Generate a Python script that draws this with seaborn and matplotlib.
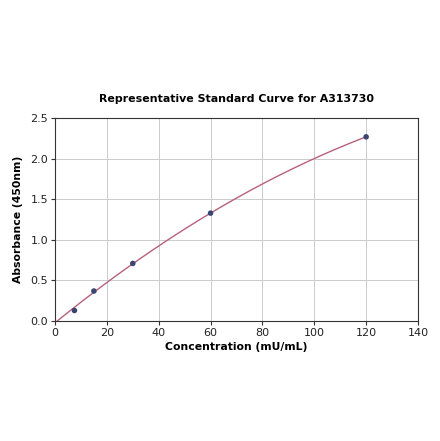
import numpy as np
import matplotlib
matplotlib.use('Agg')
import matplotlib.pyplot as plt
import seaborn as sns

# standard points
conc = [0, 7.5, 15, 30, 60, 120]
absorb = [0.0, 0.13, 0.37, 0.71, 1.33, 2.27]

sns.set_style('whitegrid')
plt.rcParams['font.family'] = ['DejaVu Sans']

fig = plt.figure(figsize=(4.4, 4.41), dpi=100)
ax = fig.add_axes([0.125, 0.272, 0.825, 0.46])

# second order fit for the curve
coef = np.polyfit(conc, absorb, 2)
xs = np.linspace(0, 120, 200)
ys = np.polyval(coef, xs)
sns.lineplot(x=xs, y=ys, ax=ax, color='#b8607f', linewidth=1)
sns.scatterplot(x=conc[1:], y=absorb[1:], ax=ax, color='#3b4670', s=16, edgecolor='none', zorder=3)

ax.set_xlim(0, 140)
ax.set_ylim(0, 2.5)
ax.set_xticks(np.arange(0, 141, 20))
ax.set_yticks(np.arange(0, 2.51, 0.5))
ax.tick_params(labelsize=8, length=3, color='#333333', labelcolor='#222222', left=True, bottom=True, pad=2)
for s in ax.spines.values():
    s.set_color('#333333')
    s.set_linewidth(0.8)
ax.grid(color='#cccccc', linewidth=0.7)

ax.set_title('Representative Standard Curve for A313730', fontsize=7.9, fontweight='bold', pad=12, color='black')
ax.set_xlabel('Concentration (mU/mL)', fontsize=7.8, fontweight='bold', labelpad=3, color='black')
ax.set_ylabel('Absorbance (450nm)', fontsize=7.8, fontweight='bold', labelpad=5, color='black')

fig.savefig('out.png', dpi=100)
